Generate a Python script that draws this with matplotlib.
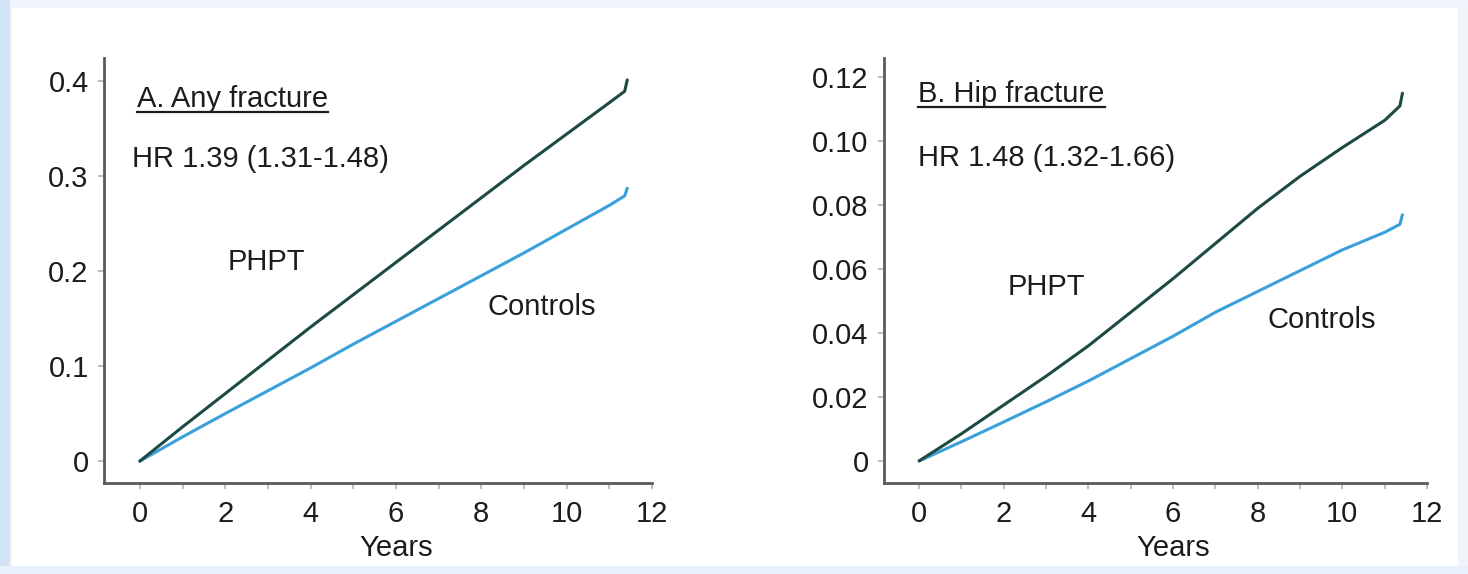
import matplotlib
matplotlib.use("Agg")
import matplotlib.pyplot as plt
from matplotlib.patches import Rectangle
from matplotlib.lines import Line2D

plt.rcParams['font.family'] = ['Liberation Sans', 'DejaVu Sans']

# cumulative incidence (years)
years = [0, 1, 2, 3, 4, 5, 6, 7, 8, 9, 10, 11, 11.36, 11.42]

any_phpt = [0, 0.036, 0.071, 0.106, 0.141, 0.175, 0.209, 0.243, 0.277, 0.311, 0.344, 0.377, 0.389, 0.401]
any_ctrl = [0, 0.0255, 0.050, 0.074, 0.098, 0.123, 0.147, 0.171, 0.195, 0.219, 0.244, 0.269, 0.279, 0.287]

hip_phpt = [0, 0.0085, 0.0175, 0.0265, 0.036, 0.0465, 0.057, 0.068, 0.079, 0.089, 0.098, 0.1065, 0.111, 0.115]
hip_ctrl = [0, 0.006, 0.0122, 0.0185, 0.025, 0.032, 0.039, 0.0465, 0.053, 0.0595, 0.066, 0.0715, 0.074, 0.077]

panels = [
    dict(title="A. Any fracture", hr="HR 1.39 (1.31-1.48)", phpt=any_phpt, ctrl=any_ctrl,
         yticks=[0, 0.1, 0.2, 0.3, 0.4], ylabels=["0", "0.1", "0.2", "0.3", "0.4"],
         ylim=(-0.023, 0.424), xlim=(-0.84, 12),
         title_xy=(-0.07, 0.372), hr_xy=(-0.19, 0.309),
         phpt_xy=(2.06, 0.201), ctrl_xy=(8.15, 0.154),
         rect=[104 / 1468, 91 / 574, 548 / 1468, 425 / 574]),
    dict(title="B. Hip fracture", hr="HR 1.48 (1.32-1.66)", phpt=hip_phpt, ctrl=hip_ctrl,
         yticks=[0, 0.02, 0.04, 0.06, 0.08, 0.10, 0.12],
         ylabels=["0", "0.02", "0.04", "0.06", "0.08", "0.10", "0.12"],
         ylim=(-0.0069, 0.126), xlim=(-0.83, 12),
         title_xy=(-0.02, 0.1122), hr_xy=(-0.02, 0.0921),
         phpt_xy=(2.1, 0.052), ctrl_xy=(8.23, 0.0417),
         rect=[884 / 1468, 91 / 574, 543 / 1468, 425 / 574]),
]

dark = "#1d4a44"
light = "#3aa0dc"
spine_c = "#5a5a5a"
txt_c = "#1c1c1c"
fs = 21

fig = plt.figure(figsize=(14.68, 5.74), dpi=100, facecolor="#f1f4fa")
fig.patches.append(Rectangle((12 / 1468, 8 / 574), 1446 / 1468, 558 / 574,
                             transform=fig.transFigure, facecolor="white",
                             edgecolor="none", zorder=-5))
fig.patches.append(Rectangle((0, 0), 10 / 1468, 1, transform=fig.transFigure,
                             facecolor="#d3e3f7", edgecolor="none", zorder=-5))
fig.patches.append(Rectangle((0, 0), 1, 8 / 574, transform=fig.transFigure,
                             facecolor="#e8f0fb", edgecolor="none", zorder=-5))

titles = []
for p in panels:
    ax = fig.add_axes(p["rect"])
    ax.set_facecolor("none")
    ax.plot(years, p["ctrl"], color=light, lw=2.2, solid_capstyle="round")
    ax.plot(years, p["phpt"], color=dark, lw=2.2, solid_capstyle="round")
    ax.set_xlim(*p["xlim"])
    ax.set_ylim(*p["ylim"])
    ax.set_xticks(range(0, 13, 2))
    ax.set_xticks(range(1, 12, 2), minor=True)
    ax.set_yticks(p["yticks"])
    ax.set_yticklabels(p["ylabels"])
    for s in ["top", "right"]:
        ax.spines[s].set_visible(False)
    for s in ["left", "bottom"]:
        ax.spines[s].set_color(spine_c)
        ax.spines[s].set_linewidth(2)
    ax.tick_params(axis="both", which="both", direction="out", length=4,
                   width=1.2, color="#b0b0b0", labelsize=fs, labelcolor=txt_c)
    ax.tick_params(axis="x", pad=8)
    ax.tick_params(axis="y", pad=7)
    ax.set_xlabel("Years", fontsize=fs, color=txt_c)
    ax.xaxis.set_label_coords((6 - p["xlim"][0]) / (12 - p["xlim"][0]), -0.12)

    t = ax.text(*p["title_xy"], p["title"], fontsize=fs, color=txt_c, va="baseline")
    titles.append((ax, t))
    ax.text(*p["hr_xy"], p["hr"], fontsize=fs, color=txt_c, va="baseline")
    ax.text(*p["phpt_xy"], "PHPT", fontsize=fs, color=txt_c, va="baseline")
    ax.text(*p["ctrl_xy"], "Controls", fontsize=fs, color=txt_c, va="baseline")

# underline the panel titles
fig.canvas.draw()
r = fig.canvas.get_renderer()
for ax, t in titles:
    bb = t.get_window_extent(renderer=r)
    base_y = ax.transData.transform(t.get_position())[1] - 5
    x0, x1 = fig.transFigure.inverted().transform([[bb.x0, base_y], [bb.x1, base_y]])
    fig.lines.append(Line2D([x0[0], x1[0]], [x0[1], x1[1]], transform=fig.transFigure,
                            color=txt_c, lw=1.6))

fig.savefig("out.png", dpi=100, facecolor=fig.get_facecolor())
